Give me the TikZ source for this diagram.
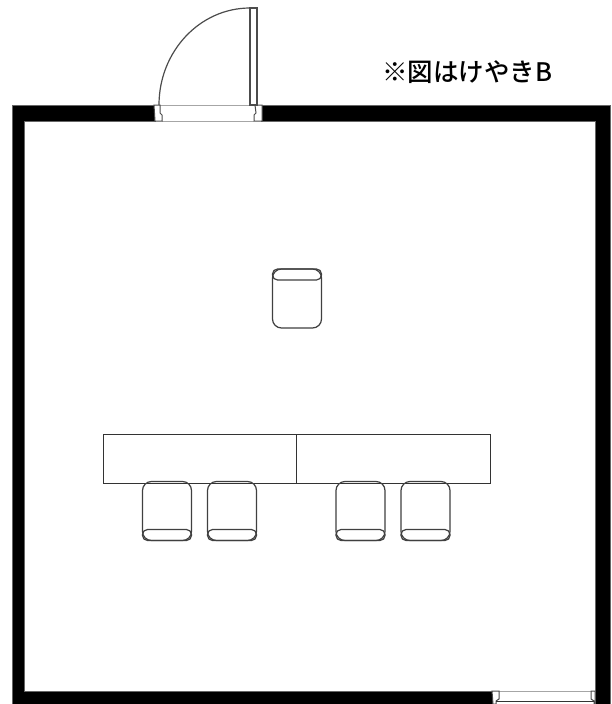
\documentclass[tikz,border=0pt]{standalone}
\usepackage{fontspec}
\newfontfamily\jpfont{Noto Sans CJK JP Medium}
\usetikzlibrary{positioning}
\tikzset{
  wall/.style={fill=black, draw=black!60, line width=0.6pt},
  jamb/.style={fill=white, draw=black!70, line width=1pt},
  sill/.style={draw=black!35, line width=0.8pt},
  leaf/.style={draw=black!70, line width=1.2pt},
  desk/.style={draw=black!80, line width=0.8pt, minimum width=193.5pt, minimum height=49pt, inner sep=0pt, outer sep=0pt},
  chair/.style={draw=black!75, line width=1.2pt, rounded corners=9pt, minimum width=49pt, minimum height=59pt, inner sep=0pt, outer sep=0pt},
  band/.style={draw=black!75, line width=1.2pt, rounded corners=5pt, minimum width=49pt, minimum height=11pt, inner sep=0pt, outer sep=0pt}
}
\begin{document}
\begin{tikzpicture}[x=1pt, y=-1pt]

    \useasboundingbox (0,0) rectangle (612,704);

    % Walls

    \fill[white] (0,0) rectangle (612,704);
    \draw[wall] (12,105) -- (155,105) -- (155,121) -- (24,121) -- (24,691) -- (493,691) -- (493,704) -- (12,704) -- cycle;
    \draw[wall] (261,105) -- (610,105) -- (610,704) -- (595,704) -- (595,121) -- (261,121) -- cycle;

    % Top door

    \draw[sill] (160,105) -- (255,105);
    \draw[sill] (162,121) -- (254,121);
    \draw[jamb] (154,105) -- (160,105) -- (160,113) -- (162,115) -- (162,121) -- (155,121) -- cycle;
    \draw[jamb] (262,105) -- (255,105) -- (256,113) -- (254,115) -- (254,121) -- (262,121) -- cycle;
    \draw[leaf] (250,8) rectangle (257,105);
    \draw[leaf] (250,8) arc[start angle=90, end angle=180, x radius=91, y radius=-97];

    % Bottom door

    \draw[sill] (499,691) -- (591,691);
    \draw[jamb] (492,691) -- (499,691) -- (499,699) -- (496,701) -- (496,704) -- (493,704) -- cycle;
    \draw[jamb] (595,691) -- (591,691) -- (591,699) -- (594,701) -- (594,704) -- (595,704) -- cycle;
    \draw[draw=black!80, line width=1pt] (496,701) -- (594,701);

    % Desks

    \node[desk] (desk1) at (200,458.5) {};
    \node[desk, right=0pt of desk1] (desk2) {};

    % Chairs

    \node[chair] (chair1) at (167,511) {};
    \node[chair, right=16pt of chair1] (chair2) {};
    \node[chair] (chair3) at (360.5,511) {};
    \node[chair, right=16pt of chair3] (chair4) {};
    \node[chair] (chair5) at (297,298.5) {};

    \node[band, above=0pt of chair1.south] (band1) {};
    \node[band, above=0pt of chair2.south] (band2) {};
    \node[band, above=0pt of chair3.south] (band3) {};
    \node[band, above=0pt of chair4.south] (band4) {};
    \node[band, below=0pt of chair5.north] (band5) {};

    % Note

    \node[font=\jpfont\fontsize{25.5}{25.5}\selectfont, inner sep=0pt] (note) at (467,72) {※図はけやきB};

\end{tikzpicture}
\end{document}
